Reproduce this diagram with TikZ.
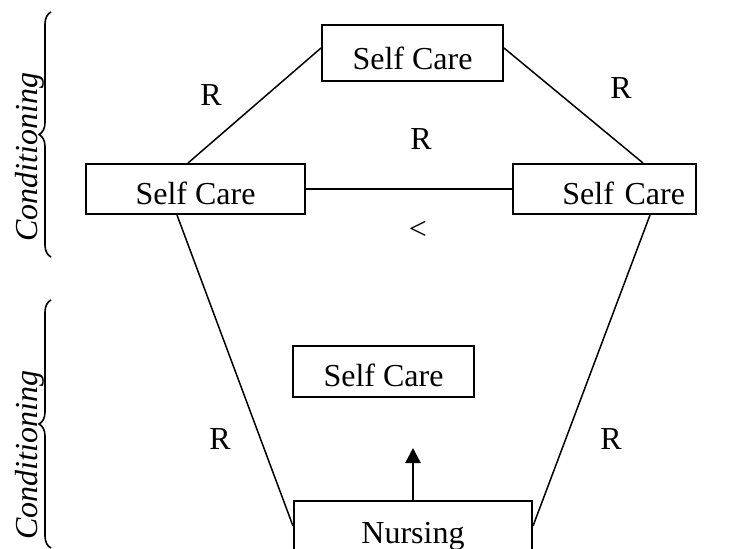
\documentclass[tikz,border=0pt]{standalone}
\usepackage{fontspec}
\setmainfont{Liberation Serif}
\usetikzlibrary{arrows.meta,decorations.pathreplacing}
\begin{document}
\begin{tikzpicture}[x=0.5pt,y=-0.5pt,
  every node/.style={font=\fontsize{16}{19}\selectfont},
  box/.style={draw,line width=1pt,inner sep=0pt,minimum height=25pt,
    text height=15pt,text depth=0pt},
  link/.style={line width=0.75pt},
  lbl/.style={inner sep=0pt},
  side/.style={font=\fontsize{16}{19}\selectfont\itshape,rotate=90,inner sep=0pt},
  curly/.style={decorate,decoration={brace,amplitude=6pt},line width=0.8pt}]
  \clip (0,0) rectangle (732,548);

  % boxes
  \node[box,minimum width=90.5pt,minimum height=28pt,text height=16pt] (top) at (412.5,53) {Self Care};
  \node[box,minimum width=109.5pt] (left) at (195.5,189) {Self Care};
  \node[box,text width=80.5pt,inner xsep=5.5pt,align=right] (right) at (604.5,189) {Self Care};
  \node[box,minimum width=90.5pt,minimum height=25.5pt] (mid) at (383.5,371.5) {Self Care};
  \node[box,minimum width=119pt,text height=17pt] (nurse) at (413,526) {Nursing};
  \coordinate (tip) at (413,448);

  % connectors
  \draw[link] ([xshift=-3.75pt]left.north) -- ([yshift=2.5pt]top.west);
  \draw[link] ([yshift=2.5pt]top.east) -- ([xshift=19.25pt]right.north);
  \draw[link] (left.east) -- (right.west);
  \draw[link] ([xshift=-9.25pt]left.south) -- (nurse.west);
  \draw[link] ([xshift=22.75pt]right.south) -- (nurse.east);
  \draw[line width=1.25pt,-{Triangle[length=7.5pt,width=7.5pt]}] (nurse.north) -- (tip);

  % labels
  \node[lbl] (r1) at (211,95) {R};
  \node[lbl] (r2) at (621,88) {R};
  \node[lbl] (r3) at (421,139) {R};
  \node[lbl] (lt) at (418,230) {<};
  \node[lbl] (r4) at (220,439) {R};
  \node[lbl] (r5) at (611,439) {R};

  % side braces
  \node[side] (c1) at (30,157) {Conditioning};
  \node[side] (c2) at (30,455) {Conditioning};
  \draw[curly] (51,257) -- (51,12);
  \draw[curly] (51,548) -- (51,300);
\end{tikzpicture}
\end{document}
